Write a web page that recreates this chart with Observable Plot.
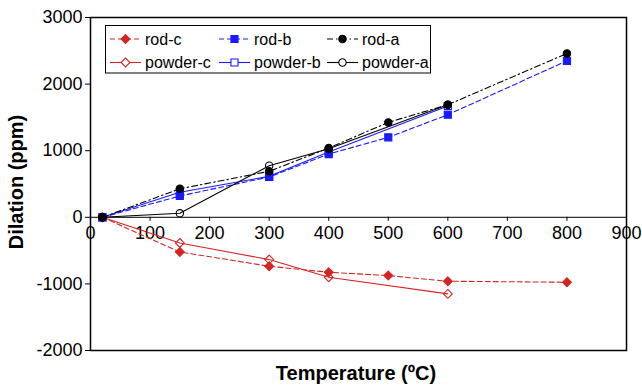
<!DOCTYPE html>
<html><head><meta charset="utf-8">
<script src="https://cdn.jsdelivr.net/npm/d3@7"></script>
<script src="https://cdn.jsdelivr.net/npm/@observablehq/plot@0.6"></script>
<style>body{margin:0;background:#fff;font-family:"Liberation Sans",Arial,sans-serif;}</style>
</head><body><div id="chart"></div>
<script>
const rodTemps = [20, 150, 300, 400, 500, 600, 800];
const rodA = [0, 428, 690, 1040, 1425, 1690, 2460];
const rodB = [0, 320, 605, 950, 1200, 1540, 2350];
const rodC = [0, -520, -735, -825, -875, -960, -975];
const powderTemps = [20, 150, 300, 400, 600];
const powderA = [0, 60, 775, 1030, 1690];
const powderB = [0, 375, 615, 980, 1670];
const powderC = [0, -385, -635, -900, -1150];
const xTicks = [0, 100, 200, 300, 400, 500, 600, 700, 800, 900];
const yTicks = [-2000, -1000, 0, 1000, 2000, 3000];
const seriesNames = ["rod-c", "rod-b", "rod-a", "powder-c", "powder-b", "powder-a"];

const red = "#d42424", blue = "#1a1aff", black = "#000";
const styles = {
  "rod-c":    {color: red,   dash: "5,3",       symbol: "diamond2", filled: true,  r: 4.0},
  "rod-b":    {color: blue,  dash: "5,3",       symbol: "square",   filled: true,  r: 4.0},
  "rod-a":    {color: black, dash: "6,3,1.5,3", symbol: "circle",   filled: true,  r: 3.7},
  "powder-c": {color: red,   dash: null,        symbol: "diamond2", filled: false, r: 4.0},
  "powder-b": {color: blue,  dash: null,        symbol: "square",   filled: false, r: 4.0},
  "powder-a": {color: black, dash: null,        symbol: "circle",   filled: false, r: 3.7}
};
const seriesData = {
  "rod-c": rodTemps.map((t, i) => ({t, v: rodC[i]})),
  "rod-b": rodTemps.map((t, i) => ({t, v: rodB[i]})),
  "rod-a": rodTemps.map((t, i) => ({t, v: rodA[i]})),
  "powder-c": powderTemps.map((t, i) => ({t, v: powderC[i]})),
  "powder-b": powderTemps.map((t, i) => ({t, v: powderB[i]})),
  "powder-a": powderTemps.map((t, i) => ({t, v: powderA[i]}))
};
const drawOrder = ["powder-c", "rod-c", "powder-b", "rod-b", "powder-a", "rod-a"];

const marks = [
  Plot.ruleY([0], {stroke: "#000", strokeWidth: 1}),
  Plot.ruleX(xTicks, {x: d => d, y1: 0, y2: -60, stroke: "#000", strokeWidth: 1}),
  Plot.text(xTicks, {x: d => d, y: 0, text: d => String(d), dy: 16, fontSize: 18, fill: "#000"}),
  Plot.axisY(yTicks, {tickSize: 5, tickPadding: 3, tickFormat: d => String(d), fontSize: 18, label: null, stroke: "#000"})
];
for (const name of drawOrder) {
  const s = styles[name];
  marks.push(Plot.line(seriesData[name], {x: "t", y: "v", stroke: s.color, strokeWidth: 1.1, strokeDasharray: s.dash}));
}
for (const name of drawOrder) {
  const s = styles[name];
  marks.push(Plot.dot(seriesData[name], {x: "t", y: "v", symbol: s.symbol, r: s.r,
    fill: s.filled ? s.color : "none", stroke: s.color, strokeWidth: 1.1}));
}
marks.push(Plot.frame({stroke: "#000", strokeWidth: 1.5}));

const chart = Plot.plot({
  width: 642, height: 389,
  marginLeft: 90, marginRight: 16, marginTop: 17, marginBottom: 39,
  style: {fontFamily: "'Liberation Sans', Arial, sans-serif", background: "#fff", overflow: "visible"},
  x: {domain: [0, 900], axis: null},
  y: {domain: [-2000, 3000], axis: null},
  marks
});

const svg = d3.select(chart);
// Axis titles
svg.append("text").attr("x", 356).attr("y", 380).attr("text-anchor", "middle")
  .attr("font-size", 20).attr("font-weight", "bold").attr("fill", "#000").text("Temperature (ºC)");
svg.append("text").attr("transform", "translate(23,182) rotate(-90)").attr("text-anchor", "middle")
  .attr("font-size", 20).attr("font-weight", "bold").attr("fill", "#000").text("Dilation (ppm)");

// Legend
const lg = svg.append("g").attr("text-anchor", "start");
lg.append("rect").attr("x", 105.5).attr("y", 25.5).attr("width", 325).attr("height", 47.5)
  .attr("fill", "#fff").attr("stroke", "#000").attr("stroke-width", 1);
const colX = [110, 219, 327];
const rowY = [39, 62.5];
const symMap = {circle: d3.symbolCircle, square: d3.symbolSquare, diamond2: d3.symbolDiamond2};
seriesNames.forEach((name, i) => {
  const s = styles[name];
  const x0 = colX[i % 3], y0 = rowY[Math.floor(i / 3)];
  lg.append("line").attr("x1", x0).attr("x2", x0 + 31).attr("y1", y0).attr("y2", y0)
    .attr("stroke", s.color).attr("stroke-width", 1.1).attr("stroke-dasharray", s.dash);
  lg.append("path").attr("transform", `translate(${x0 + 15.5},${y0})`)
    .attr("d", d3.symbol(symMap[s.symbol], Math.PI * s.r * s.r)())
    .attr("fill", s.filled ? s.color : "#fff").attr("stroke", s.color).attr("stroke-width", 1.1);
  lg.append("text").attr("x", x0 + 35).attr("y", y0).attr("dy", "0.36em").attr("text-anchor", "start")
    .attr("font-size", 16).attr("fill", "#000").text(name);
});

document.getElementById("chart").appendChild(chart);
</script></body></html>
